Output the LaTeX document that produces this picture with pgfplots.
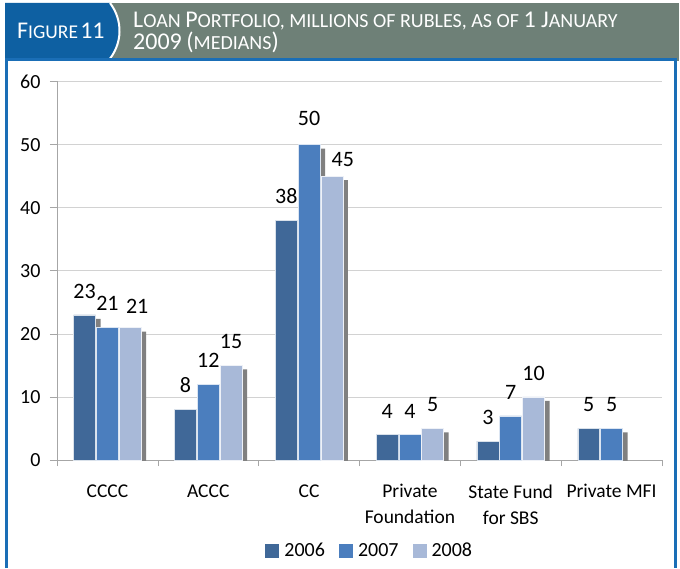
\documentclass[border=0pt]{standalone}
\usepackage{pgfplots}
\usepackage{pgfplotstable}
\pgfplotsset{compat=1.18}
\usepackage{fontspec}
\setmainfont{Carlito}
\definecolor{cA}{RGB}{64,104,152}
\definecolor{cB}{RGB}{75,126,190}
\definecolor{cC}{RGB}{168,185,216}
\definecolor{shd}{RGB}{128,128,128}
\definecolor{hblue}{RGB}{14,96,162}
\definecolor{hgray}{RGB}{110,128,119}
\definecolor{fblue}{RGB}{26,110,182}
\newcommand\BIG[1]{{\fontsize{24}{22}\selectfont #1}}
% x = category index, v = value, dx/dy = label nudges (pt)
\pgfplotstableread{
x v dx dy
0 23 0 0
1 8 0 0
2 38 0 0
3 4 0 0
4 3 0 0
5 5 0 0
}\tA
\pgfplotstableread{
x v dx dy
0 21 0 0
1 12 0 0
2 50 0 2
3 4 0 0
4 7 0 0
5 5 0 0
}\tB
\pgfplotstableread{
x v dx dy
0 21 7 -3
1 15 0 0
2 45 11 -7
3 5 0 0
4 10 0 0
}\tC
\begin{document}
\begin{tikzpicture}
\useasboundingbox (0pt,0pt) rectangle (680pt,568pt);
% frame
\fill[white] (0pt,0pt) rectangle (680pt,568pt);
\fill[hgray] (5pt,507pt) rectangle (679pt,565pt);
\fill[hblue] (5pt,507pt) -- (5pt,565pt) -- (110pt,565pt) .. controls (123pt,548pt) and (123pt,524pt) .. (108pt,507pt) -- cycle;
\draw[white, line width=2pt] (110pt,565pt) .. controls (123pt,548pt) and (123pt,524pt) .. (108pt,507pt);
\draw[fblue, line width=3pt] (6pt,0pt) -- (6pt,508.5pt) -- (675.5pt,508.5pt) -- (675.5pt,0pt);
\node[white, anchor=base west, inner sep=0pt] at (17pt,529pt) {\BIG{F}{\fontsize{19.5}{20}\selectfont IGURE} \BIG{11}};
\node[white, anchor=base west, inner sep=0pt, align=left] at (133pt,540pt)
 {\fontsize{20}{22}\selectfont \BIG{L}OAN \BIG{P}ORTFOLIO, MILLIONS OF RUBLES, AS OF \BIG{1 J}ANUARY};
\node[white, anchor=base west, inner sep=0pt, align=left] at (133pt,518pt)
 {\fontsize{20}{22}\selectfont \BIG{2009} \BIG{(}MEDIANS\BIG{)}};
\begin{axis}[
  at={(57pt,108pt)}, anchor=south west,
  scale only axis, width=605pt, height=378.5pt,
  xmin=-0.5, xmax=5.5, ymin=0, ymax=60,
  ytick={0,10,...,60},
  xtick={0,...,5},
  xticklabels={CCCC,ACCC,CC,{Private\\Foundation},{State Fund\\for SBS},Private MFI},
  minor xtick={-0.5,0.5,...,5.5},
  major x tick style={draw=none},
  minor x tick style={draw=gray!70, line width=0.6pt},
  minor tick length=6pt,
  major tick length=7pt,
  y tick style={draw=gray!70, line width=0.6pt},
  tick align=outside,
  axis x line*=bottom, axis y line*=left,
  axis line style={gray!70, line width=0.6pt},
  ymajorgrids, grid style={gray!35, line width=0.6pt},
  /pgf/number format/assume math mode=true,
  xticklabel style={align=center, font=\fontsize{19.5}{26}\selectfont, text=black, yshift=-14pt},
  yticklabel style={font=\fontsize{20}{22}\selectfont, text=black, xshift=-6pt},
  legend columns=3,
  legend style={at={(0.517,-0.240)}, anchor=center, draw=none, fill=none,
    font=\fontsize{20}{22}\selectfont,
    /tikz/every odd column/.append style={column sep=3pt},
    /tikz/every even column/.append style={column sep=12pt}},
  legend image code/.code={\fill[#1,draw=none] (0pt,-7pt) rectangle (14pt,7pt);},
  visualization depends on={\thisrow{dx} \as \dx},
  visualization depends on={\thisrow{dy} \as \dy},
  nodes near coords style={font=\fontsize{22}{22}\selectfont, text=black},
]
% shadows
\addplot[ybar, bar width=0.218, bar shift=-0.226, fill=shd, draw=none, xshift=5pt, yshift=-4pt, forget plot]
  table[x=x, y=v] {\tA};
\addplot[ybar, bar width=0.218, bar shift=0, fill=shd, draw=none, xshift=5pt, yshift=-4pt, forget plot]
  table[x=x, y=v] {\tB};
\addplot[ybar, bar width=0.218, bar shift=0.226, fill=shd, draw=none, xshift=5pt, yshift=-4pt, forget plot]
  table[x=x, y=v] {\tC};
% bars
\addplot[ybar, bar width=0.218, bar shift=-0.226, fill=cA, draw=white!80!cA, line width=0.6pt,
  nodes near coords, every node near coord/.append style={xshift=-22.8pt+\dx pt, yshift=13pt+\dy pt}]
  table[x=x, y=v] {\tA};
\addplot[ybar, bar width=0.218, bar shift=0, fill=cB, draw=white!80!cB, line width=0.6pt,
  nodes near coords, every node near coord/.append style={xshift=\dx pt, yshift=13pt+\dy pt}]
  table[x=x, y=v] {\tB};
\addplot[ybar, bar width=0.218, bar shift=0.226, fill=cC, draw=white!80!cC, line width=0.6pt,
  nodes near coords, every node near coord/.append style={xshift=22.8pt+\dx pt, yshift=13pt+\dy pt}]
  table[x=x, y=v] {\tC};
\legend{2006,2007,2008}
\end{axis}
\end{tikzpicture}
\end{document}
